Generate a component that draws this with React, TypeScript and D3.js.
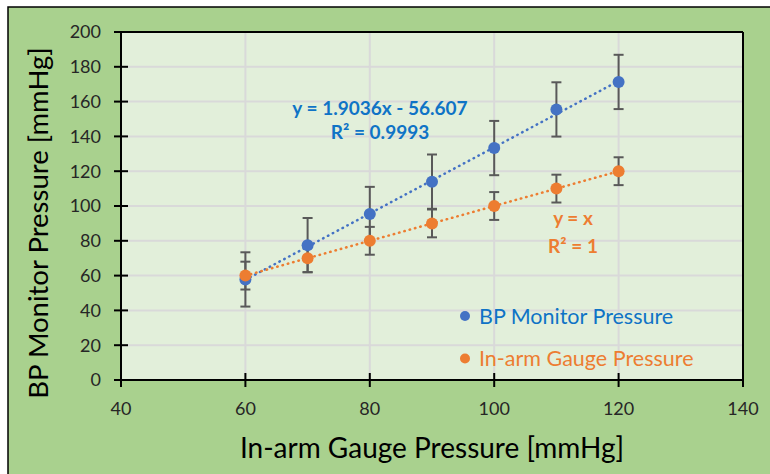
import * as d3 from 'd3';

const xValues = [60, 70, 80, 90, 100, 110, 120];
const bpMonitor = [57.8, 77.5, 95.4, 114, 133.3, 155.5, 171.3];
const inArmGauge = [60, 70, 80, 90, 100, 110, 120];
const bpError = [15.6, 15.6, 15.6, 15.6, 15.6, 15.6, 15.6];
const gaugeError = [8, 8, 8, 8, 8, 8, 8];
const xTicks = [40, 60, 80, 100, 120, 140];
const yTicks = [0, 20, 40, 60, 80, 100, 120, 140, 160, 180, 200];
const bpFit = { slope: 1.9036, intercept: -56.607 };
const gaugeFit = { slope: 1, intercept: 0 };

const W = 770;
const H = 474;
const margin = { top: 32, right: 27, bottom: 94, left: 121 };
const font = 'Lato, "Open Sans", sans-serif';
const blue = '#4472c4';
const orange = '#ed7d31';
const blueText = '#0f73c6';
const orangeText = '#ed7d31';

const App = () => {
  const x = d3.scaleLinear().domain([40, 140]).range([margin.left, W - margin.right]);
  const y = d3.scaleLinear().domain([0, 200]).range([H - margin.bottom, margin.top]);
  const x0 = x(40), x1 = x(140), y0 = y(0), y1 = y(200);

  const fitLine = (f: { slope: number; intercept: number }) =>
    d3.line<number>().x(d => x(d)).y(d => y(f.slope * d + f.intercept))([60, 120])!;

  const series = [
    { name: 'BP Monitor Pressure', values: bpMonitor, err: bpError, color: blue, fit: bpFit },
    { name: 'In-arm Gauge Pressure', values: inArmGauge, err: gaugeError, color: orange, fit: gaugeFit },
  ];

  return (
    <svg width={W} height={H} style={{ position: 'absolute', left: 0, top: 0, background: '#fff' }}>
      <rect x={8} y={7} width={W} height={H} fill="#a9d18e" stroke="#000" strokeWidth={1.5} />
      <rect x={x0} y={y1} width={x1 - x0} height={y0 - y1} fill="#e2efda" />
      {/* grid */}
      {yTicks.slice(1).map(t => (
        <line key={'gy' + t} x1={x0} x2={x1} y1={y(t)} y2={y(t)} stroke="#d9d9d9" strokeWidth={2} />
      ))}
      {xTicks.slice(1, -1).map(t => (
        <line key={'gx' + t} x1={x(t)} x2={x(t)} y1={y0} y2={y1} stroke="#d9d9d9" strokeWidth={2} />
      ))}
      {/* frame and axes */}
      <line x1={x0} x2={x1} y1={y1} y2={y1} stroke="#000" strokeWidth={2} />
      <line x1={x1} x2={x1} y1={y1} y2={y0} stroke="#000" strokeWidth={2} />
      <line x1={x0} x2={x0} y1={y1} y2={y0} stroke="#000" strokeWidth={2} />
      <line x1={x0} x2={x1} y1={y0} y2={y0} stroke="#000" strokeWidth={2} />
      {yTicks.map(t => (
        <g key={'ty' + t}>
          <line x1={x0 - 7} x2={x0 + 7} y1={y(t)} y2={y(t)} stroke="#000" strokeWidth={2} />
          <text x={x0 - 20} y={y(t)} dy="0.35em" textAnchor="end" fontFamily={font} fontSize={18} fill="#262626">{t}</text>
        </g>
      ))}
      {xTicks.map(t => (
        <g key={'tx' + t}>
          <line x1={x(t)} x2={x(t)} y1={y0 - 7} y2={y0 + 7} stroke="#000" strokeWidth={2} />
          <text x={x(t)} y={y0 + 29} dy="0.35em" textAnchor="middle" fontFamily={font} fontSize={18} fill="#262626">{t}</text>
        </g>
      ))}
      {/* trendlines */}
      {series.map(s => (
        <path key={'fit' + s.name} d={fitLine(s.fit)} fill="none" stroke={s.color} strokeWidth={2.5} strokeDasharray="0.5 5" strokeLinecap="round" />
      ))}
      {/* error bars */}
      {series.map(s =>
        xValues.map((xv, i) => (
          <g key={'err' + s.name + xv} stroke="#595959" strokeWidth={2}>
            <line x1={x(xv)} x2={x(xv)} y1={y(s.values[i] - s.err[i])} y2={y(s.values[i] + s.err[i])} />
            <line x1={x(xv) - 5} x2={x(xv) + 5} y1={y(s.values[i] - s.err[i])} y2={y(s.values[i] - s.err[i])} />
            <line x1={x(xv) - 5} x2={x(xv) + 5} y1={y(s.values[i] + s.err[i])} y2={y(s.values[i] + s.err[i])} />
          </g>
        ))
      )}
      {/* markers */}
      {series.map(s =>
        xValues.map((xv, i) => (
          <circle key={'pt' + s.name + xv} cx={x(xv)} cy={y(s.values[i])} r={6} fill={s.color} />
        ))
      )}
      {/* trendline labels */}
      <g fontFamily={font} fontWeight="bold" fontSize={19} fill={blueText} textAnchor="middle">
        <text x={380} y={108} dy="0.35em">y = 1.9036x - 56.607</text>
        <text x={380} y={132} dy="0.35em">R² = 0.9993</text>
      </g>
      <g fontFamily={font} fontWeight="bold" fontSize={19} fill={orangeText} textAnchor="middle">
        <text x={573} y={218} dy="0.35em">y = x</text>
        <text x={573} y={246} dy="0.35em">R² = 1</text>
      </g>
      {/* legend */}
      {series.map((s, i) => (
        <g key={'lg' + s.name}>
          <circle cx={465} cy={316 + i * 42.5} r={5} fill={s.color} />
          <text x={479} y={316 + i * 42.5} dy="0.35em" fontFamily={font} fontSize={21.5} fill={i === 0 ? blueText : orangeText}>{s.name}</text>
        </g>
      ))}
      {/* axis titles */}
      <text x={432} y={448} dy="0.35em" textAnchor="middle" fontFamily={font} fontSize={28} fill="#000">In-arm Gauge Pressure [mmHg]</text>
      <text transform={`translate(38,223) rotate(-90)`} dy="0.35em" textAnchor="middle" fontFamily={font} fontSize={27.5} fill="#000">BP Monitor Pressure [mmHg]</text>
    </svg>
  );
};

export default App;
